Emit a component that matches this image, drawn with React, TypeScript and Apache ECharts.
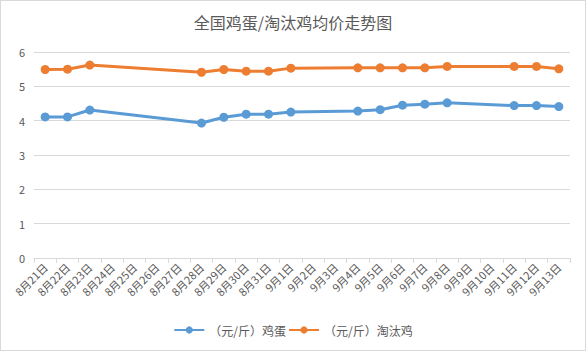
import React, { useEffect, useRef } from "react";
import * as echarts from "echarts";

const categories = [
  "8月21日", "8月22日", "8月23日", "8月24日", "8月25日", "8月26日", "8月27日", "8月28日",
  "8月29日", "8月30日", "8月31日", "9月1日", "9月2日", "9月3日", "9月4日", "9月5日",
  "9月6日", "9月7日", "9月8日", "9月9日", "9月10日", "9月11日", "9月12日", "9月13日",
];

const eggPrices: (number | null)[] = [
  4.11, 4.11, 4.31, null, null, null, null, 3.93,
  4.1, 4.19, 4.19, 4.25, null, null, 4.28, 4.32,
  4.45, 4.48, 4.52, null, null, 4.44, 4.44, 4.41,
];

const henPrices: (number | null)[] = [
  5.49, 5.5, 5.62, null, null, null, null, 5.41,
  5.49, 5.44, 5.44, 5.53, null, null, 5.54, 5.54,
  5.54, 5.54, 5.58, null, null, 5.58, 5.58, 5.51,
];

const seriesNames = ["（元/斤）鸡蛋", "（元/斤）淘汰鸡"];
const title = "全国鸡蛋/淘汰鸡均价走势图";

export default function App() {
  const ref = useRef<HTMLDivElement>(null);
  useEffect(() => {
    document.body.style.margin = "0";
    const chart = echarts.init(ref.current!, null, { renderer: "svg" });
    const font = '"Noto Sans CJK SC", "Microsoft YaHei", sans-serif';
    chart.setOption({
      animation: false,
      backgroundColor: "#ffffff",
      textStyle: { fontFamily: font },
      title: {
        text: title,
        left: "center",
        top: 8,
        textStyle: { fontSize: 16, fontWeight: "normal", color: "#595959", fontFamily: font },
      },
      legend: {
        bottom: 9,
        left: "center",
        itemWidth: 30,
        itemHeight: 9,
        itemGap: 2,
        textStyle: { fontSize: 12, color: "#595959", fontFamily: font },
        data: seriesNames,
      },
      grid: { left: 33, right: 15, top: 51, bottom: 92, containLabel: false },
      xAxis: {
        type: "category",
        data: categories,
        boundaryGap: true,
        axisLine: { lineStyle: { color: "#d9d9d9" } },
        axisTick: { show: true, lineStyle: { color: "#d9d9d9" }, length: 5 },
        axisLabel: { rotate: 45, interval: 0, fontSize: 11, color: "#595959", margin: 7, fontFamily: font },
      },
      yAxis: {
        type: "value",
        min: 0,
        max: 6,
        interval: 1,
        axisLine: { show: false },
        axisTick: { show: false },
        axisLabel: { fontSize: 11, color: "#595959", margin: 9, fontFamily: font },
        splitLine: { lineStyle: { color: "#d9d9d9" } },
      },
      series: [
        {
          name: seriesNames[0],
          type: "line",
          data: eggPrices,
          connectNulls: true,
          symbol: "circle",
          symbolSize: 9,
          itemStyle: { color: "#5B9BD5" },
          lineStyle: { color: "#5B9BD5", width: 3 },
        },
        {
          name: seriesNames[1],
          type: "line",
          data: henPrices,
          connectNulls: true,
          symbol: "circle",
          symbolSize: 9,
          itemStyle: { color: "#ED7D31" },
          lineStyle: { color: "#ED7D31", width: 3 },
        },
      ],
    });
    return () => chart.dispose();
  }, []);
  return (
    <div
      style={{
        position: "absolute",
        left: 0,
        top: 0,
        width: 586,
        height: 351,
        boxSizing: "border-box",
        border: "1px solid #d9d9d9",
      }}
    >
      <div ref={ref} style={{ width: 584, height: 349 }} />
    </div>
  );
}
